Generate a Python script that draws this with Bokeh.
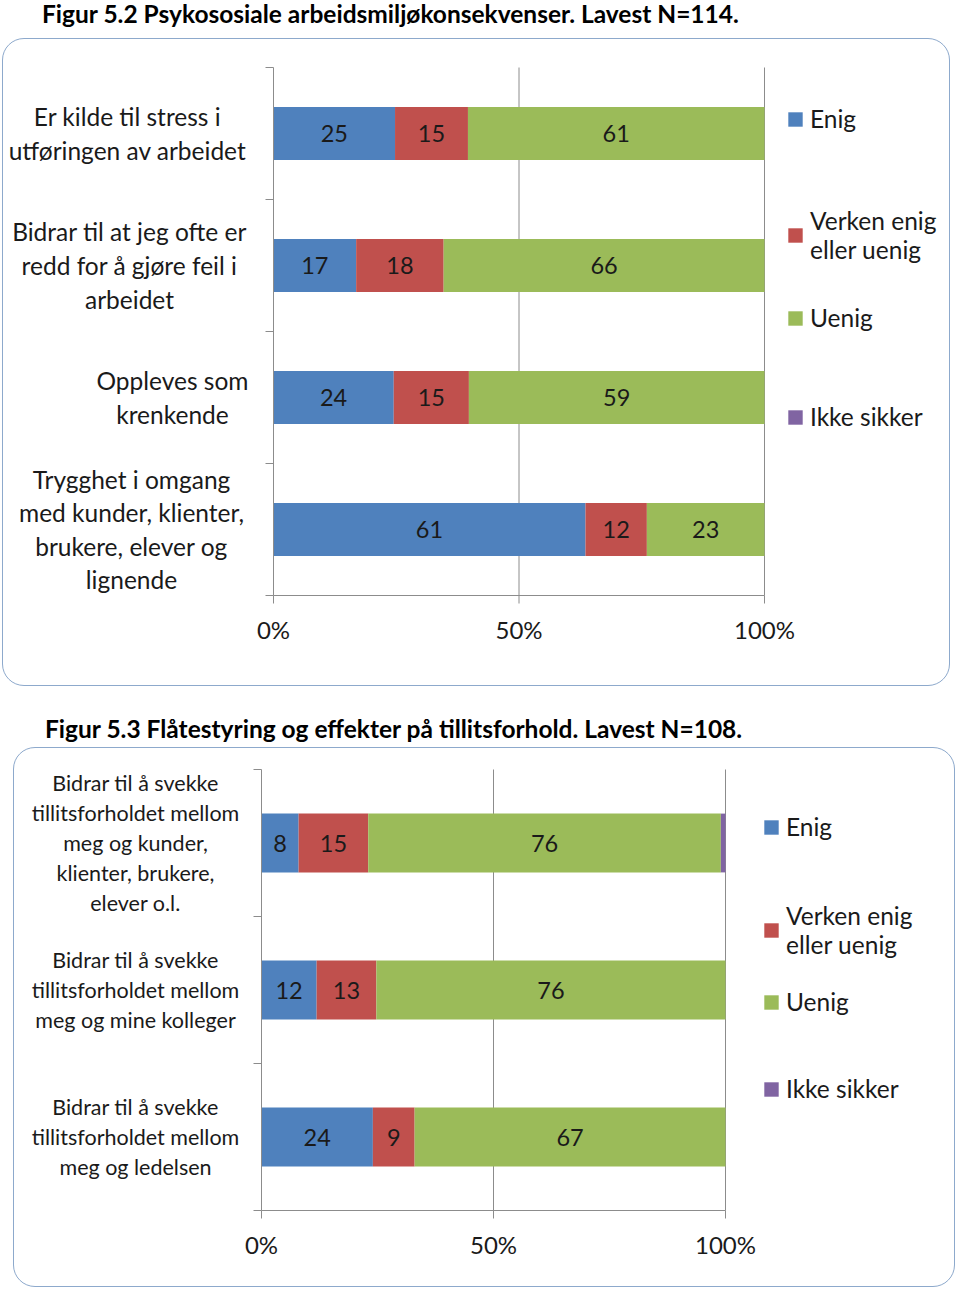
from bokeh.plotting import figure
from bokeh.models import ColumnDataSource, Legend, LegendItem, Div, Range1d
from bokeh.layouts import column
from bokeh.embed import file_html
from bokeh.resources import INLINE
from bokeh.core.properties import value

# ---------------- data ----------------
title1 = "Figur 5.2 Psykososiale arbeidsmiljøkonsekvenser. Lavest N=114."
title2 = "Figur 5.3 Flåtestyring og effekter på tillitsforhold. Lavest N=108."

series_names = ["Enig", "Verken enig\neller uenig", "Uenig", "Ikke sikker"]
series_colors = ["#4F81BD", "#C0504D", "#9BBB59", "#8064A2"]

c1_categories = [
    "Er kilde til stress i\nutføringen av arbeidet",
    "Bidrar til at jeg ofte er\nredd for å gjøre feil i\narbeidet",
    "Oppleves som\nkrenkende",
    "Trygghet i omgang\nmed kunder, klienter,\nbrukere, elever og\nlignende",
]
c1_enig = [25, 17, 24, 61]
c1_verken = [15, 18, 15, 12]
c1_uenig = [61, 66, 59, 23]
c1_ikke = [0, 0, 0, 0]

c2_categories = [
    "Bidrar til å svekke\ntillitsforholdet mellom\nmeg og kunder,\nklienter, brukere,\nelever o.l.",
    "Bidrar til å svekke\ntillitsforholdet mellom\nmeg og mine kolleger",
    "Bidrar til å svekke\ntillitsforholdet mellom\nmeg og ledelsen",
]
c2_enig = [8, 12, 24]
c2_verken = [15, 13, 9]
c2_uenig = [76, 76, 67]
c2_ikke = [1, 0, 0]

x_ticks = [0, 0.5, 1.0]
x_tick_labels = ["0%", "50%", "100%"]

FONT = "Lato"
AXIS_GRAY = "#8C8C8C"
TEXT = "#1a1a1a"
BORDER = "#8DA9CC"
TICK = 8  # px


def make_chart(cats, vals, W, H, mleft, mtop, sx, sy, cat_font, cat_lh,
               cat_offsets, val_font, legend_pos):
    n = len(cats)
    mright = W - mleft - sx
    mbottom = H - mtop - n * sy
    ys = [n - 1 - i + 0.5 for i in range(n)]
    totals = [sum(v[i] for v in vals) for i in range(n)]
    p = figure(width=W, height=H,
               x_range=Range1d(-mleft / sx, 1 + mright / sx),
               y_range=Range1d(-mbottom / sy, n + mtop / sy),
               x_axis_type=None, y_axis_type=None,
               output_backend="svg", toolbar_location=None,
               min_border=0,
               styles={"border": f"1.5px solid {BORDER}", "border-radius": "22px"})
    p.background_fill_alpha = 0
    p.border_fill_alpha = 0
    p.outline_line_color = None
    p.xgrid.visible = False
    p.ygrid.visible = False

    # grid lines (behind bars)
    p.segment(x0=x_ticks[1:], x1=x_ticks[1:], y0=[0] * 2, y1=[n] * 2,
              line_color=AXIS_GRAY, line_width=1)

    renderers = []
    cum = [0.0] * n
    for k, v in enumerate(vals):
        left = [cum[i] for i in range(n)]
        right = [cum[i] + v[i] / totals[i] for i in range(n)]
        cum = right
        src = ColumnDataSource(dict(y=ys, left=left, right=right,
                                    mid=[(a + b) / 2 for a, b in zip(left, right)],
                                    lab=[str(x) for x in v]))
        r = p.hbar(y="y", left="left", right="right", height=0.4, source=src,
                   fill_color=series_colors[k], line_color=None)
        renderers.append(r)
        if k < 3:
            p.text(x="mid", y="y", text="lab", source=src, text_align="center",
                   text_baseline="middle", text_font=value(FONT),
                   text_font_size=val_font, text_color=TEXT)

    # axis lines and ticks
    p.segment(x0=[0, 0], x1=[0, 1], y0=[0, 0], y1=[n, 0], line_color=AXIS_GRAY)
    yt = list(range(n + 1))
    p.segment(x0=[0] * len(yt), x1=[-TICK / sx] * len(yt), y0=yt, y1=yt,
              line_color=AXIS_GRAY)
    p.segment(x0=x_ticks, x1=x_ticks, y0=[0] * 3, y1=[-TICK / sy] * 3,
              line_color=AXIS_GRAY)
    p.text(x=x_ticks, y=[0] * 3, text=x_tick_labels, y_offset=34,
           text_align="center", text_baseline="middle", text_font=value(FONT),
           text_font_size="24px", text_color=TEXT)

    # category labels
    p.text(x=[0] * n, y=ys, text=cats, x_offset=cat_offsets,
           text_align="center", text_baseline="middle",
           text_font=value(FONT), text_font_size=cat_font,
           text_line_height=cat_lh, text_color=TEXT)

    for k, r in enumerate(renderers):
        lg = Legend(items=[LegendItem(label=series_names[k], renderers=[r])],
                    location=legend_pos[k], border_line_color=None,
                    background_fill_alpha=0, padding=0, margin=0,
                    glyph_width=18, glyph_height=18, label_standoff=6,
                    label_text_font=FONT, label_text_font_size="24.5px",
                    label_text_color=TEXT, label_text_line_height=1.3)
        p.add_layout(lg, "center")
    return p


p1 = make_chart(c1_categories, [c1_enig, c1_verken, c1_uenig, c1_ikke],
                948, 648, 270, 28, 491, 132, "24.5px", 1.16,
                [-146, -144, -101, -142], "23.5px",
                [(783, 554), (783, 423), (783, 355), (783, 256)])
p1.margin = (0, 0, 0, 2)

p2 = make_chart(c2_categories, [c2_enig, c2_verken, c2_uenig, c2_ikke],
                942, 540, 247, 21, 464, 147, "21.5px", 1.15,
                [-126, -126, -126], "23.5px",
                [(748, 447), (748, 329), (748, 272), (748, 185)])
p2.margin = (0, 0, 0, 13)

d1 = Div(text=f'<div style="position:relative;left:42px;top:-4px;font-family:Lato;'
              f'font-weight:bold;font-size:24.5px;white-space:nowrap;color:#000">{title1}</div>',
         width=960, height=38, margin=(0, 0, 0, 0))
d2 = Div(text=f'<div style="position:relative;left:45px;top:25px;font-family:Lato;'
              f'font-weight:bold;font-size:24.5px;white-space:nowrap;color:#000">{title2}</div>',
         width=960, height=61, margin=(0, 0, 0, 0))

layout = column(d1, p1, d2, p2, spacing=0, margin=(0, 0, 0, 0))
open("out.html", "w").write(file_html(layout, INLINE))
